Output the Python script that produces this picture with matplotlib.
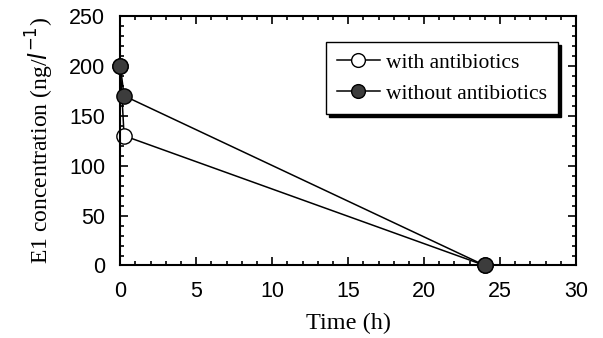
import matplotlib.pyplot as plt
from matplotlib.ticker import MultipleLocator

# E1 concentration over time
time_with = [0, 0.25, 24]
conc_with = [200, 130, 0]
time_without = [0, 0.25, 24]
conc_without = [200, 170, 0]

label_with = 'with antibiotics'
label_without = 'without antibiotics'


def main():
	fig = plt.figure(figsize=(6.03, 3.38), dpi=100)
	ax = fig.add_axes([0.1995, 0.2145, 0.7557, 0.7382])

	ax.plot(time_without, conc_without, '-o', color='black', lw=1.1,
	        markersize=11, markerfacecolor='#3c3c3c', markeredgecolor='black',
	        markeredgewidth=1.0, label=label_without, zorder=3, clip_on=False)
	ax.plot(time_with, conc_with, '-o', color='black', lw=1.1,
	        markersize=11, markerfacecolor='white', markeredgecolor='black',
	        markeredgewidth=1.0, label=label_with, zorder=2, clip_on=False)

	ax.set_xlim(0, 30)
	ax.set_ylim(0, 250)
	ax.xaxis.set_major_locator(MultipleLocator(5))
	ax.xaxis.set_minor_locator(MultipleLocator(1))
	ax.yaxis.set_major_locator(MultipleLocator(50))
	ax.yaxis.set_minor_locator(MultipleLocator(10))
	ax.tick_params(which='both', direction='in', top=True, right=True, width=1.2)
	ax.tick_params(which='major', length=6, labelsize=15.5)
	ax.tick_params(axis='x', which='major', pad=11)
	ax.tick_params(axis='y', which='major', pad=11)
	ax.tick_params(which='minor', length=3)
	for s in ax.spines.values():
		s.set_linewidth(1.5)
	for t in ax.get_xticklabels() + ax.get_yticklabels():
		t.set_family('Liberation Sans')

	ax.set_xlabel('Time (h)', family='Liberation Serif', fontsize=17.5, labelpad=8)
	ax.set_ylabel(r'E1 concentration (ng/$\mathit{l}^{-1}$)', family='Liberation Serif',
	              fontsize=17, labelpad=9)

	h, l = ax.get_legend_handles_labels()
	leg = ax.legend(h[::-1], l[::-1], loc='upper right', bbox_to_anchor=(0.9605, 0.896),
	                borderaxespad=0, prop={'family': 'Liberation Serif', 'size': 15.5},
	                frameon=True, fancybox=False, shadow={'color': 'black', 'alpha': 1},
	                handlelength=2.0, handletextpad=0.3, borderpad=0.5,
	                labelspacing=0.5, markerscale=0.9)
	leg.get_frame().set_edgecolor('black')
	leg.get_frame().set_linewidth(1.0)

	fig.savefig('out.png', dpi=100)


if __name__ == '__main__':
	main()
